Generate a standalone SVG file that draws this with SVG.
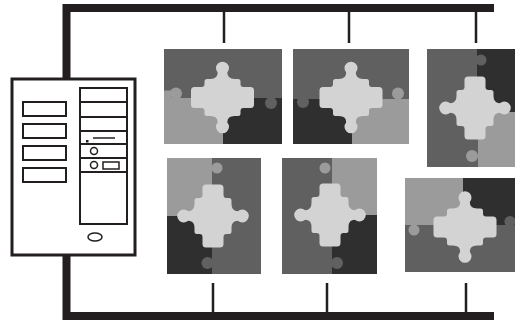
<svg xmlns="http://www.w3.org/2000/svg" xmlns:xlink="http://www.w3.org/1999/xlink" width="515" height="322" viewBox="0 0 515 322">
  <style>
    .bus { stroke: #231f20; stroke-width: 8; fill: none; }
    .tick { stroke: #231f20; stroke-width: 2.5; fill: none; }
    .case { fill: #ffffff; stroke: #231f20; stroke-width: 3; }
    .part { fill: none; stroke: #231f20; stroke-width: 2; }
    .thin { fill: none; stroke: #231f20; stroke-width: 1.5; }
    .mid { fill: #606060; }
    .light { fill: #9b9b9b; }
    .dark { fill: #2f2f2f; }
    .core { fill: #d3d3d3; }
  </style>
  <defs>
    <!-- centre puzzle piece: horizontal bar, round tabs top and bottom -->
    <path id="cross" d="M4.8,-24.9 A6.5,6.5 0 1 0 -4.8,-24.9 Q-4.8,-18.5 -12,-18.5 L-15.5,-18.5 Q-18,-18.5 -18,-16 L-18,-13.5 Q-18,-10.5 -21,-10.5 L-28,-10.5 Q-31.5,-10.5 -31.5,-7 L-31.5,7 Q-31.5,10.5 -28,10.5 L-21,10.5 Q-18,10.5 -18,13.5 L-18,16 Q-18,18.5 -15.5,18.5 L-12,18.5 Q-4.8,18.5 -4.8,24.9 A6.5,6.5 0 1 0 4.8,24.9 Q4.8,18.5 12,18.5 L15.5,18.5 Q18,18.5 18,16 L18,13.5 Q18,10.5 21,10.5 L28,10.5 Q31.5,10.5 31.5,7 L31.5,-7 Q31.5,-10.5 28,-10.5 L21,-10.5 Q18,-10.5 18,-13.5 L18,-16 Q18,-18.5 15.5,-18.5 L12,-18.5 Q4.8,-18.5 4.8,-24.9 Z"/>
  </defs>

  <!-- network bus and drop lines -->
  <g id="connectors">
    <path class="bus" d="M66.5,4 V318 M62.5,8 H494 M62.5,316 H494"/>
    <path class="tick" d="M224,12 V43 M349,12 V43 M476,12 V43 M213,283 V312 M327,283 V312 M466,283 V312"/>
  </g>

  <!-- server tower -->
  <g id="server">
    <rect class="case" x="12" y="79" width="123" height="176"/>
    <rect class="part" x="23" y="102" width="43" height="14"/>
    <rect class="part" x="23" y="124" width="43" height="14"/>
    <rect class="part" x="23" y="146" width="43" height="14"/>
    <rect class="part" x="23" y="168" width="43" height="14"/>
    <rect class="part" x="80" y="88" width="47" height="136"/>
    <path class="part" d="M80,102 H127 M80,117 H127 M80,131 H127 M80,144 H127 M80,158 H127 M80,172 H127"/>
    <rect x="86" y="140" width="2.5" height="2.5" fill="#231f20"/>
    <path class="thin" d="M93,138 H115"/>
    <circle class="thin" cx="94" cy="151" r="3.5"/>
    <circle class="thin" cx="94" cy="165" r="3.5"/>
    <rect class="thin" x="103" y="162" width="16" height="7"/>
    <ellipse class="thin" cx="95" cy="237" rx="7" ry="4"/>
  </g>

  <!-- workstation tiles -->
  <g id="tile1">
    <rect class="mid" x="164" y="49" width="118" height="95"/>
    <path class="light" d="M164,90.5 H171 V98 H223 V144 H164 Z"/>
    <circle class="light" cx="176" cy="93.5" r="6"/>
    <rect class="dark" x="223" y="98" width="59" height="46"/>
    <circle class="mid" cx="271" cy="103" r="6"/>
    <use xlink:href="#cross" class="core" transform="translate(222.5,97.5)"/>
  </g>

  <g id="tile2">
    <rect class="mid" x="293" y="49" width="116" height="95"/>
    <rect class="dark" x="293" y="99" width="59" height="45"/>
    <circle class="mid" cx="303" cy="102" r="6"/>
    <rect class="light" x="352" y="99" width="57" height="45"/>
    <circle class="light" cx="398" cy="93.5" r="6"/>
    <use xlink:href="#cross" class="core" transform="translate(351,97.5)"/>
  </g>

  <g id="tile3">
    <rect class="mid" x="427" y="49" width="88" height="118"/>
    <rect class="dark" x="477" y="49" width="38" height="63"/>
    <circle class="mid" cx="481" cy="60" r="5.5"/>
    <rect class="light" x="478" y="112" width="37" height="55"/>
    <circle class="light" cx="472" cy="156" r="6"/>
    <use xlink:href="#cross" class="core" transform="translate(475,108) rotate(90)"/>
  </g>

  <g id="tile4">
    <rect class="mid" x="167" y="158" width="94" height="116"/>
    <rect class="light" x="167" y="158" width="45" height="58"/>
    <circle class="light" cx="217" cy="168" r="5.5"/>
    <rect class="dark" x="167" y="216" width="45" height="58"/>
    <circle class="mid" cx="207.5" cy="263" r="6"/>
    <use xlink:href="#cross" class="core" transform="translate(213,216) rotate(90)"/>
  </g>

  <g id="tile5">
    <rect class="mid" x="282" y="158" width="95" height="116"/>
    <rect class="light" x="332" y="158" width="45" height="57"/>
    <circle class="light" cx="325" cy="168" r="5.5"/>
    <rect class="dark" x="332" y="215" width="45" height="59"/>
    <circle class="mid" cx="337" cy="263" r="6"/>
    <use xlink:href="#cross" class="core" transform="translate(330,215) rotate(90)"/>
  </g>

  <g id="tile6">
    <rect class="mid" x="405" y="178" width="110" height="94"/>
    <rect class="light" x="405" y="178" width="58" height="47"/>
    <circle class="light" cx="414" cy="230" r="5.5"/>
    <rect class="dark" x="463" y="178" width="52" height="47"/>
    <circle class="mid" cx="510" cy="221.5" r="5.5"/>
    <use xlink:href="#cross" class="core" transform="translate(465,227)"/>
  </g>
</svg>
